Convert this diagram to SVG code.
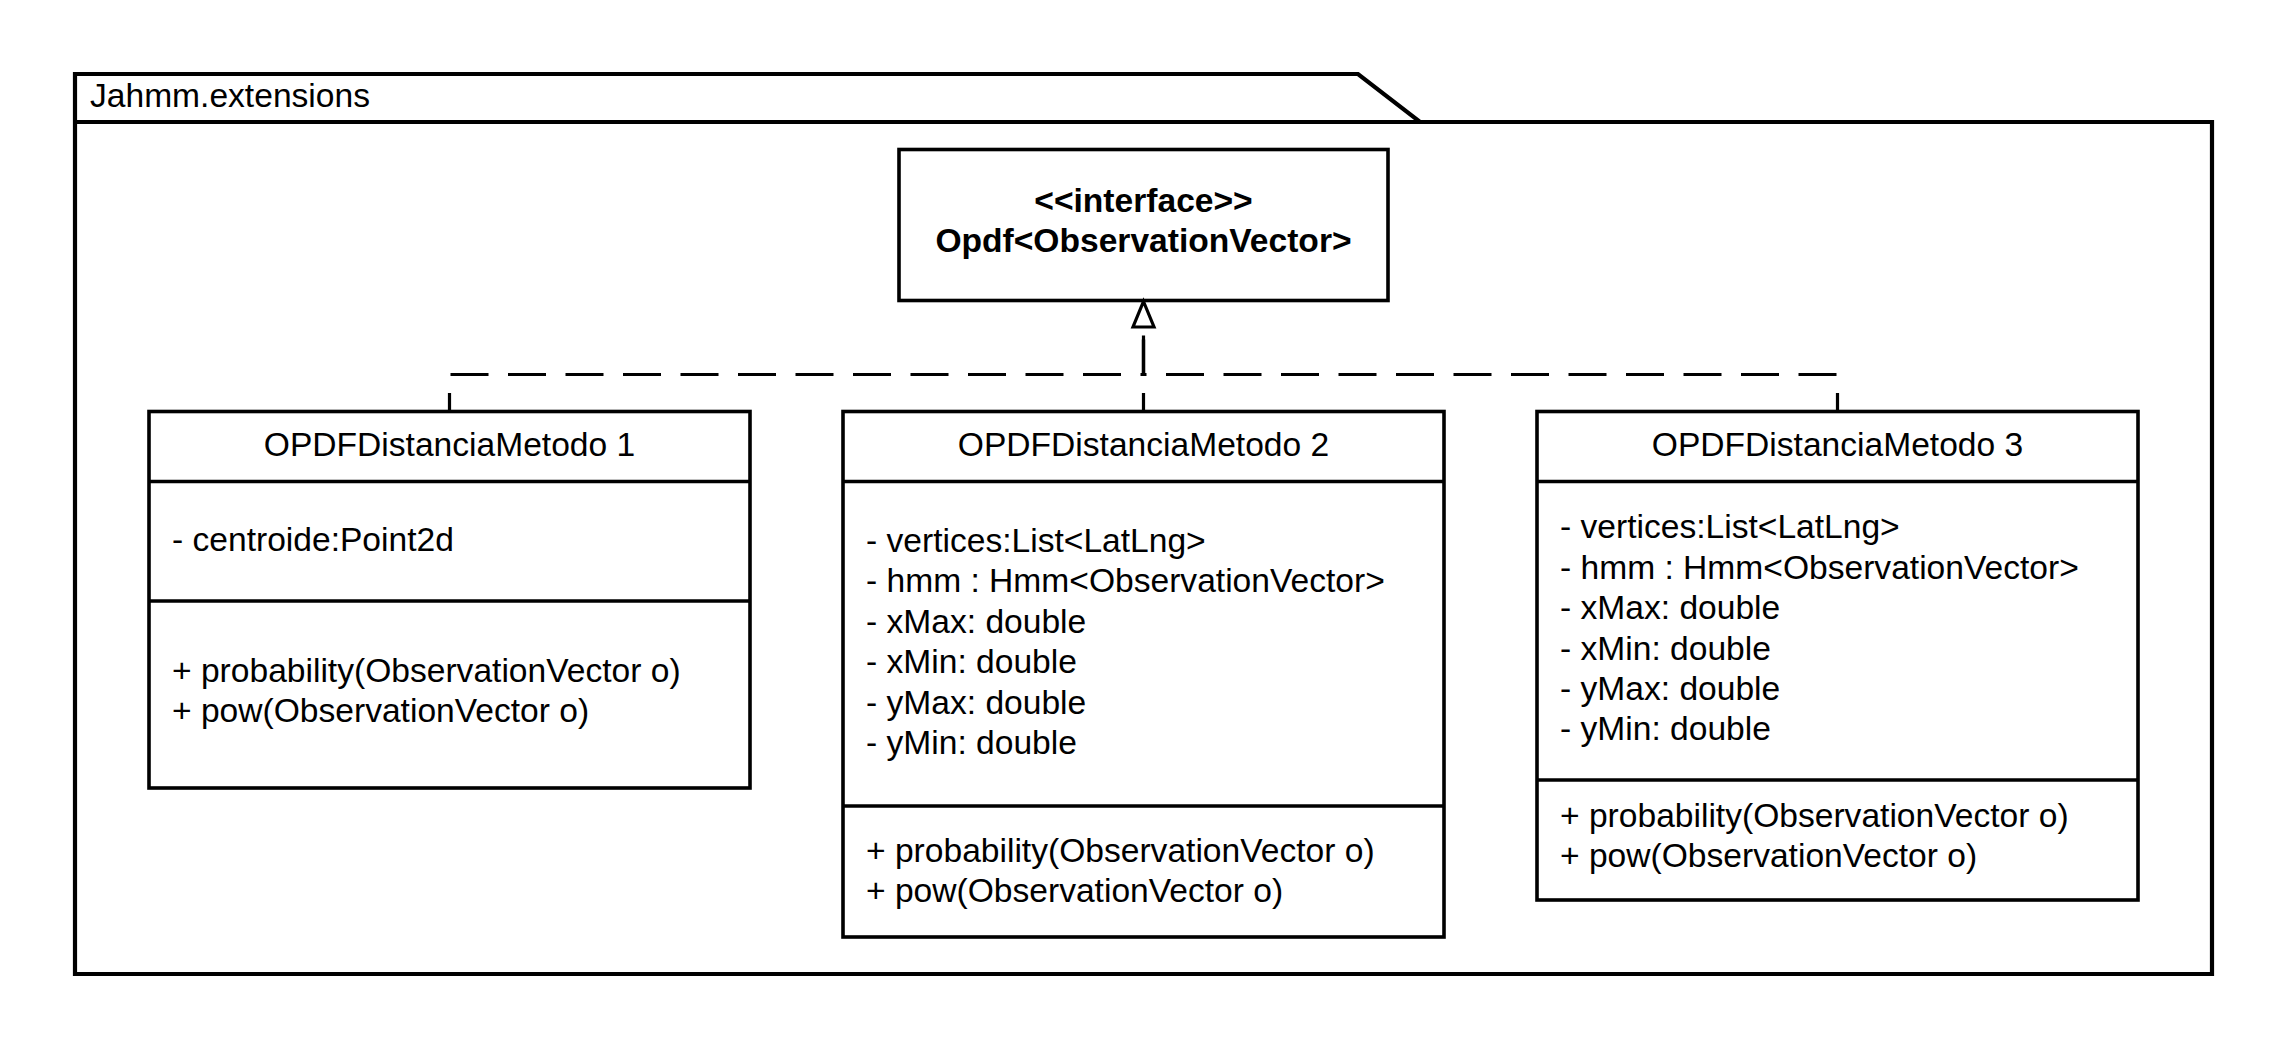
<svg xmlns="http://www.w3.org/2000/svg" width="2288" height="1050" viewBox="0 0 2288 1050">
<style>
text{font-family:"Liberation Sans",Arial,Helvetica,sans-serif;font-size:33.6px;fill:#000}
.b{font-weight:bold}
.box{fill:#fff;stroke:#000;stroke-width:3.6}
.sep{stroke:#000;stroke-width:3.6}
.pkg{fill:#fff;stroke:#000;stroke-width:4.2;stroke-linejoin:miter}
.dash{fill:none;stroke:#000;stroke-width:3.2;stroke-dasharray:38 19.5;stroke-dashoffset:19.5}
.tri{fill:#fff;stroke:#000;stroke-width:3.2}
</style>
<rect width="2288" height="1050" fill="#fff"/>
<g id="package">
<path class="pkg" d="M75,74 H1358 L1420,122 H2212 V974 H75 Z"/>
<line class="pkg" x1="75" y1="122" x2="1420" y2="122"/>
<text x="90" y="107">Jahmm.extensions</text>
</g>
<g id="interface">
<rect class="box" x="899" y="149.5" width="489" height="151"/>
<text class="b" x="1143.5" y="212" text-anchor="middle">&lt;&lt;interface&gt;&gt;</text>
<text class="b" x="1143.5" y="252" text-anchor="middle">Opdf&lt;ObservationVector&gt;</text>
</g>
<g id="class1">
<rect class="box" x="149" y="411.5" width="601" height="376.5"/>
<line class="sep" x1="149" y1="481.5" x2="750" y2="481.5"/>
<line class="sep" x1="149" y1="601" x2="750" y2="601"/>
<text x="449.5" y="455.5" text-anchor="middle">OPDFDistanciaMetodo 1</text>
<text x="172" y="551">- centroide:Point2d</text>
<text x="172" y="682">+ probability(ObservationVector o)</text>
<text x="172" y="722">+ pow(ObservationVector o)</text>
</g>
<g id="class2">
<rect class="box" x="843" y="411.5" width="601" height="525.5"/>
<line class="sep" x1="843" y1="481.5" x2="1444" y2="481.5"/>
<line class="sep" x1="843" y1="806" x2="1444" y2="806"/>
<text x="1143.5" y="455.5" text-anchor="middle">OPDFDistanciaMetodo 2</text>
<text x="866" y="551.5">- vertices:List&lt;LatLng&gt;</text>
<text x="866" y="592">- hmm : Hmm&lt;ObservationVector&gt;</text>
<text x="866" y="632.5">- xMax: double</text>
<text x="866" y="673">- xMin: double</text>
<text x="866" y="713.5">- yMax: double</text>
<text x="866" y="754">- yMin: double</text>
<text x="866" y="862">+ probability(ObservationVector o)</text>
<text x="866" y="902">+ pow(ObservationVector o)</text>
</g>
<g id="class3">
<rect class="box" x="1537" y="411.5" width="601" height="488.5"/>
<line class="sep" x1="1537" y1="481.5" x2="2138" y2="481.5"/>
<line class="sep" x1="1537" y1="780" x2="2138" y2="780"/>
<text x="1837.5" y="455.5" text-anchor="middle">OPDFDistanciaMetodo 3</text>
<text x="1560" y="538">- vertices:List&lt;LatLng&gt;</text>
<text x="1560" y="578.5">- hmm : Hmm&lt;ObservationVector&gt;</text>
<text x="1560" y="619">- xMax: double</text>
<text x="1560" y="659.5">- xMin: double</text>
<text x="1560" y="700">- yMax: double</text>
<text x="1560" y="740">- yMin: double</text>
<text x="1560" y="827">+ probability(ObservationVector o)</text>
<text x="1560" y="867">+ pow(ObservationVector o)</text>
</g>
<g id="connectors">
<path class="dash" d="M449.5,411.5 V374.5 H1143.5 V327"/>
<path class="dash" d="M1143.5,411.5 V327"/>
<path class="dash" d="M1837.5,411.5 V374.5 H1143.5 V327"/>
<path class="tri" d="M1143.5,301.5 L1154,327 L1133,327 Z"/>
</g>
</svg>
